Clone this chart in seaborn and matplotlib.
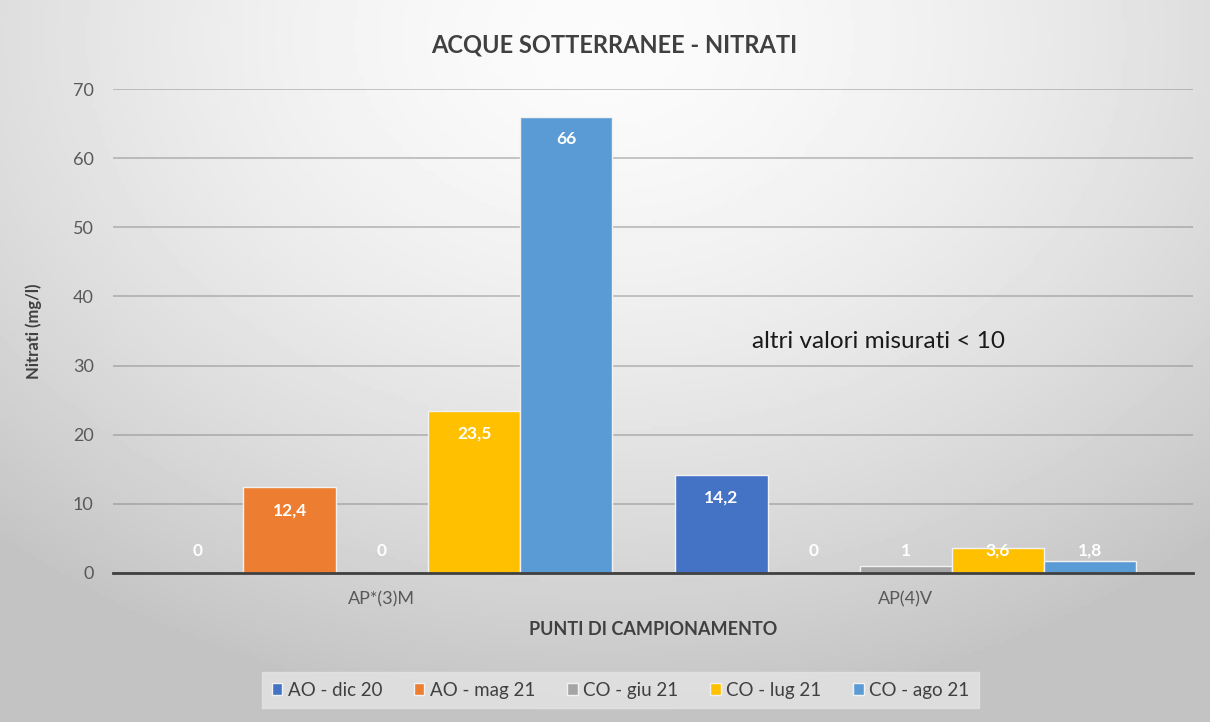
import matplotlib
matplotlib.use("Agg")
import matplotlib.pyplot as plt
import numpy as np
import pandas as pd
import seaborn as sns

points = ["AP*(3)M", "AP(4)V"]
series = ["AO - dic 20", "AO - mag 21", "CO - giu 21", "CO - lug 21", "CO - ago 21"]
ap3m_vals = [0, 12.4, 0, 23.5, 66]
ap4v_vals = [14.2, 0, 1, 3.6, 1.8]
colors = ["#4472C4", "#ED7D31", "#A5A5A5", "#FFC000", "#5B9BD5"]

df = pd.DataFrame({
    "punto": [p for p in points for _ in series],
    "serie": series * 2,
    "valore": ap3m_vals + ap4v_vals,
})

sns.set_style("white")
plt.rcParams["font.family"] = ["Lato", "DejaVu Sans"]

fig = plt.figure(figsize=(12.1, 7.22), dpi=100)

# radial gradient background like the Excel chart area
bg = fig.add_axes([0, 0, 1, 1], zorder=-10)
gx, gy = np.meshgrid(np.linspace(0, 1, 300), np.linspace(0, 1, 200))
r = np.sqrt(((gx - 0.5) / 0.75) ** 2 + ((gy - 0.05) / 0.95) ** 2)
r = np.clip(r, 0, 1)
shade = 0.985 - 0.22 * r ** 1.6
bg.imshow(shade, cmap="gray", vmin=0, vmax=1, aspect="auto", extent=[0, 1, 1, 0])
bg.set_axis_off()

ax = fig.add_axes([0.0934, 0.2064, 0.8926, 0.6703])
ax.set_facecolor("none")

sns.barplot(data=df, x="punto", y="valore", hue="serie", order=points,
            hue_order=series, palette=colors, width=0.88, ax=ax,
            edgecolor="#f2f2f2", linewidth=1, saturation=1, legend=True)

ax.set_xlim(-0.513, 1.548)
ax.set_ylim(0, 70)
ax.set_yticks(range(0, 71, 10))
ax.yaxis.grid(True, color="#808080", alpha=0.55, linewidth=1.1)
ax.set_axisbelow(True)
for s in ["top", "right", "left"]:
    ax.spines[s].set_visible(False)
ax.spines["bottom"].set_color("#404040")
ax.spines["bottom"].set_linewidth(2)
ax.tick_params(axis="both", length=0, labelsize=13, colors="#595959")
ax.tick_params(axis="y", pad=14)
ax.tick_params(axis="x", pad=13)

# data labels, inside end, white bold
for cont in ax.containers:
    for bar in cont:
        v = bar.get_height()
        lab = f"{v:g}".replace(".", ",")
        ypos = max(v - 3.3, 3.2)
        ax.text(bar.get_x() + bar.get_width() / 2, ypos, lab, ha="center",
                va="center", color="white", fontsize=12.5, fontweight="bold")

ax.text(0.706, 33.5, "altri valori misurati < 10",
        fontsize=17.5, color="#1a1a1a", ha="left", va="center")

ax.set_ylabel("Nitrati (mg/l)", fontsize=12, fontweight="bold", color="#404040", labelpad=22)
ax.set_xlabel("PUNTI DI CAMPIONAMENTO", fontsize=13, fontweight="bold", color="#404040", labelpad=10)
fig.text(0.508, 0.938, "ACQUE SOTTERRANEE - NITRATI", ha="center", va="center",
         fontsize=17, fontweight="bold", color="#404040")

leg = ax.legend(loc="center", bbox_to_anchor=(0.47, -0.242), ncol=5, frameon=True,
                fontsize=13.5, handlelength=0.55, handleheight=0.55, handletextpad=0.3,
                columnspacing=1.7, fancybox=False, borderpad=0.5)
leg.get_frame().set_facecolor("#e4e4e4")
leg.get_frame().set_edgecolor("#e4e4e4")
for t in leg.get_texts():
    t.set_color("#404040")

fig.savefig("out.png", dpi=100)
